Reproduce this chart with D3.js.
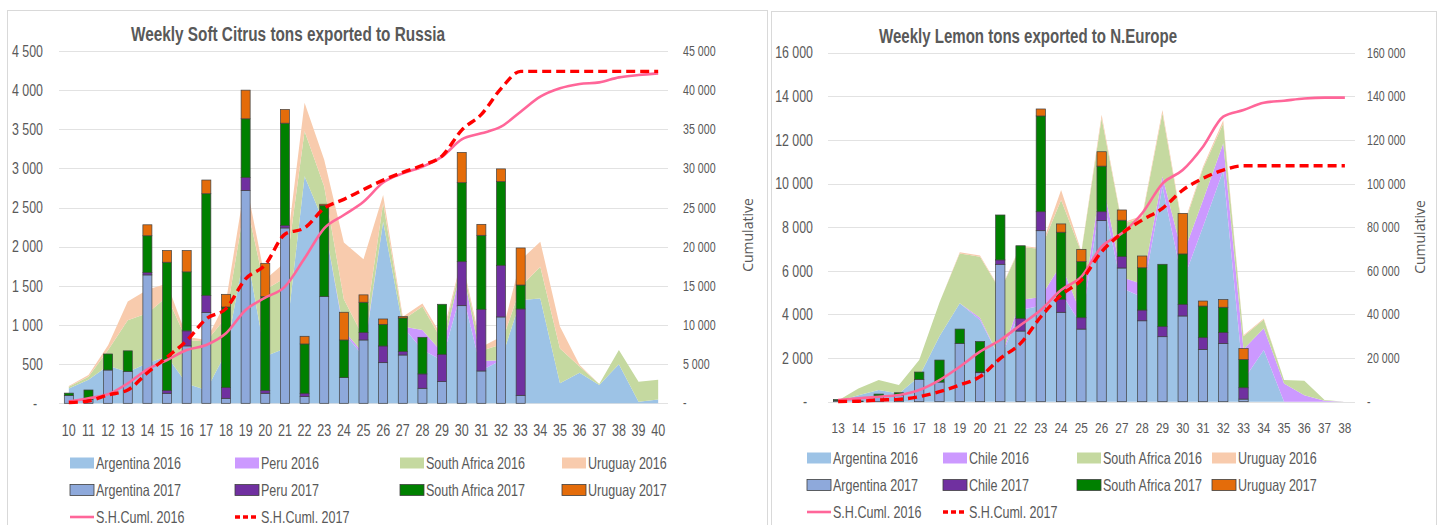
<!DOCTYPE html>
<html>
<head>
<meta charset="utf-8">
<script src="https://cdn.jsdelivr.net/npm/d3@7"></script>
<style>
  body { margin: 0; background: #fff; }
  text { font-family: "Liberation Sans", Arial, sans-serif; fill: #595959; }
  .title { font-weight: bold; font-size: 19.5px; }
  .cumul { font-family: "Open Sans", "DejaVu Sans", sans-serif; font-size: 14px; }
</style>
</head>
<body>
<svg id="chart" width="1440" height="525"></svg>
<script>
// ---- Soft citrus to Russia, weeks 10-40 ----
const russiaWeeks = [10, 11, 12, 13, 14, 15, 16, 17, 18, 19, 20, 21, 22, 23, 24, 25, 26, 27, 28, 29, 30, 31, 32, 33, 34, 35, 36, 37, 38, 39, 40];
const russiaArgentina2016 = [190, 300, 480, 400, 510, 600, 250, 170, 650, 2000, 600, 700, 2900, 2300, 900, 600, 2320, 980, 680, 550, 1450, 420, 550, 1320, 1340, 255, 390, 235, 500, 20, 50];
const russiaPeru2016 = [0, 0, 0, 0, 0, 0, 0, 0, 0, 0, 0, 0, 0, 0, 30, 40, 0, 0, 255, 100, 300, 120, 0, 0, 0, 0, 0, 0, 0, 0, 0];
const russiaSouthAfrica2016 = [20, 40, 200, 660, 640, 760, 560, 620, 450, 600, 850, 900, 575, 470, 400, 200, 235, 85, 300, 150, 60, 130, 200, 170, 405, 445, 80, 12, 180, 255, 250];
const russiaUruguay2016 = [10, 20, 60, 240, 300, 170, 40, 20, 200, 250, 130, 200, 365, 340, 725, 1000, 105, 40, 40, 50, 40, 50, 100, 340, 320, 280, 20, 0, 0, 0, 0];
const russiaArgentina2017 = [100, 50, 425, 405, 1640, 128, 733, 1160, 64, 2718, 128, 2240, 85, 1363, 328, 809, 519, 617, 192, 277, 1247, 413, 1103, 102, 0, 0, 0, 0, 0, 0, 0];
const russiaPeru2017 = [0, 0, 0, 0, 30, 34, 192, 217, 136, 166, 34, 30, 43, 0, 0, 94, 213, 43, 183, 349, 562, 788, 660, 1103, 0, 0, 0, 0, 0, 0, 0];
const russiaSouthAfrica2017 = [30, 120, 205, 265, 470, 1640, 754, 1300, 1030, 750, 1200, 1308, 630, 1163, 481, 388, 277, 430, 468, 639, 1009, 945, 1069, 306, 0, 0, 0, 0, 0, 0, 0];
const russiaUruguay2017 = [0, 0, 0, 0, 140, 150, 273, 175, 162, 366, 426, 175, 98, 17, 354, 94, 68, 17, 0, 0, 387, 140, 162, 473, 0, 0, 0, 0, 0, 0, 0];
const russiaCumul2016 = [213, 640, 1150, 2550, 4340, 5530, 6810, 7450, 8940, 11920, 13490, 14900, 18520, 22350, 24050, 25750, 28200, 29370, 30220, 31500, 33710, 34480, 35330, 37250, 39160, 40230, 40780, 40990, 41630, 41930, 42140];
const russiaCumul2017 = [100, 300, 1060, 1700, 3900, 5900, 8000, 10800, 12100, 15900, 17700, 21600, 22400, 24900, 26050, 27300, 28500, 29500, 30400, 31600, 34900, 36900, 40200, 42400, 42400, 42400, 42400, 42400, 42400, 42400, 42400];
const russiaTicks = [0, 500, 1000, 1500, 2000, 2500, 3000, 3500, 4000, 4500];
const russiaCumulTicks = [0, 5000, 10000, 15000, 20000, 25000, 30000, 35000, 40000, 45000];

// ---- Lemons to N.Europe, weeks 13-38 ----
const europeWeeks = [13, 14, 15, 16, 17, 18, 19, 20, 21, 22, 23, 24, 25, 26, 27, 28, 29, 30, 31, 32, 33, 34, 35, 36, 37, 38];
const europeArgentina2016 = [30, 300, 540, 380, 1150, 3000, 4510, 3750, 1950, 4200, 4400, 5000, 3500, 9600, 5200, 4800, 9860, 5500, 8020, 10600, 1000, 2370, 0, 0, 0, 0];
const europeChile2016 = [0, 0, 0, 0, 0, 0, 0, 100, 0, 460, 400, 1300, 500, 700, 500, 600, 460, 1200, 1220, 1250, 1400, 1000, 840, 300, 40, 0];
const europeSouthAfrica2016 = [30, 310, 450, 390, 760, 1550, 2290, 2800, 3150, 2440, 2200, 2950, 2850, 2700, 2450, 3050, 2900, 1200, 1450, 900, 600, 400, 150, 660, 40, 0];
const europeUruguay2016 = [0, 0, 0, 0, 0, 0, 50, 50, 30, 50, 50, 450, 50, 150, 50, 80, 150, 100, 80, 150, 50, 50, 0, 0, 0, 0];
const europeArgentina2017 = [50, 20, 250, 300, 1020, 900, 2670, 1330, 6300, 3240, 7840, 4100, 3330, 8300, 6130, 3710, 2980, 3930, 2400, 2670, 120, 0, 0, 0, 0, 0];
const europeChile2017 = [0, 0, 0, 0, 0, 0, 0, 30, 200, 580, 870, 600, 520, 410, 520, 490, 460, 535, 535, 500, 520, 0, 0, 0, 0, 0];
const europeSouthAfrica2017 = [50, 10, 100, 110, 340, 1010, 660, 1400, 2060, 3330, 4390, 3070, 2570, 2090, 1670, 1940, 2860, 2310, 1450, 1160, 1300, 0, 0, 0, 0, 0];
const europeUruguay2017 = [0, 0, 0, 0, 0, 0, 0, 0, 0, 0, 320, 380, 565, 660, 470, 540, 0, 1860, 230, 350, 500, 0, 0, 0, 0, 0];
const europeCumul2016 = [760, 1530, 2290, 3060, 5350, 9930, 16040, 22920, 28270, 35140, 42020, 51190, 57300, 71050, 77200, 86400, 100000, 106200, 116900, 130700, 133700, 137060, 138000, 139000, 139400, 139400];
const europeCumul2017 = [100, 230, 760, 1070, 2290, 4580, 7640, 11460, 19870, 26740, 38960, 48900, 55770, 68760, 77170, 83280, 88630, 97030, 102380, 106200, 108180, 108200, 108200, 108200, 108200, 108200];
const europeTicks = [0, 2000, 4000, 6000, 8000, 10000, 12000, 14000, 16000];
const europeCumulTicks = [0, 20000, 40000, 60000, 80000, 100000, 120000, 140000, 160000];

const areaColors = ['#9DC3E6', '#CC99FF', '#C5D9A0', '#F8CBAD'];
const barColors = ['#8EA9DB', '#7030A0', '#008000', '#E46C0A'];
const pink = '#FF6699';
const red = '#FF0000';

// the source chart uses a tall narrow face; squeeze Liberation Sans to match
const squeeze = 0.76;

const svg = d3.select('#chart');

const fmt = v => (v === 0 ? '-' : d3.format(',')(v).replace(/,/g, ' '));

function drawChart(cfg) {
  const { plot } = cfg;
  const x = d3.scaleBand().domain(cfg.weeks).range([plot.left, plot.right]);
  const y = d3.scaleLinear().domain([0, d3.max(cfg.yTicks)]).range([plot.bottom, plot.top]);
  const y2 = d3.scaleLinear().domain([0, d3.max(cfg.y2Ticks)]).range([plot.bottom, plot.top]);
  const cx = w => x(w) + x.bandwidth() / 2;
  const g = svg.append('g');

  g.append('rect')
    .attr('x', cfg.frame[0]).attr('y', cfg.frame[1])
    .attr('width', cfg.frame[2]).attr('height', cfg.frame[3])
    .attr('fill', 'none').attr('stroke', '#d9d9d9');

  g.append('text')
    .attr('class', 'title')
    .attr('x', cfg.titlePos[0]).attr('y', cfg.titlePos[1])
    .attr('text-anchor', 'middle')
    .attr('textLength', cfg.titleWidth)
    .attr('lengthAdjust', 'spacingAndGlyphs')
    .text(cfg.title);

  // gridlines
  g.append('g').selectAll('line')
    .data(cfg.yTicks)
    .join('line')
    .attr('x1', plot.left).attr('x2', plot.right)
    .attr('y1', d => Math.round(y(d)) + 0.5).attr('y2', d => Math.round(y(d)) + 0.5)
    .attr('stroke', '#e2e2e2');

  const rows = cfg.weeks.map((w, i) => {
    const r = { week: w };
    cfg.areas.forEach(s => { r[s.key] = s.values[i]; });
    cfg.bars.forEach(s => { r[s.key] = s.values[i]; });
    return r;
  });

  // 2016 stacked areas
  const areaStack = d3.stack().keys(cfg.areas.map(s => s.key))(rows);
  const area = d3.area()
    .x(d => cx(d.data.week))
    .y0(d => y(d[0]))
    .y1(d => y(d[1]));

  g.append('g').selectAll('path')
    .data(areaStack)
    .join('path')
    .attr('d', area)
    .attr('fill', (d, i) => cfg.areas[i].color);

  // 2017 stacked bars
  const barStack = d3.stack().keys(cfg.bars.map(s => s.key))(rows);
  const barW = x.bandwidth() * 0.46;

  g.append('g').selectAll('g')
    .data(barStack)
    .join('g')
    .attr('fill', (d, i) => cfg.bars[i].color)
    .selectAll('rect')
    .data(d => d.filter(p => p[1] > p[0]))
    .join('rect')
    .attr('x', d => cx(d.data.week) - barW / 2)
    .attr('width', barW)
    .attr('y', d => y(d[1]))
    .attr('height', d => y(d[0]) - y(d[1]))
    .attr('stroke', '#404040')
    .attr('stroke-width', 0.7);

  // cumulative lines on the right axis
  const line = d3.line()
    .x((d, i) => cx(cfg.weeks[i]))
    .y(d => y2(d))
    .curve(d3.curveMonotoneX);

  g.append('path')
    .datum(cfg.cumul2016)
    .attr('d', line)
    .attr('fill', 'none')
    .attr('stroke', pink)
    .attr('stroke-width', 2.6);

  g.append('path')
    .datum(cfg.cumul2017)
    .attr('d', line)
    .attr('fill', 'none')
    .attr('stroke', red)
    .attr('stroke-width', 3.4)
    .attr('stroke-dasharray', '9 5');

  // axes
  const left = g.append('g')
    .attr('transform', `translate(${plot.left},0)`)
    .call(d3.axisLeft(y).tickValues(cfg.yTicks).tickSize(0).tickPadding(cfg.pad[0]).tickFormat(fmt));
  left.selectAll('text').style('font-size', cfg.fonts[0] + 'px').attr('dx', d => (d === 0 ? -6 : 0));

  const right = g.append('g')
    .attr('transform', `translate(${plot.right},0)`)
    .call(d3.axisRight(y2).tickValues(cfg.y2Ticks).tickSize(0).tickPadding(cfg.pad[1]).tickFormat(fmt));
  right.selectAll('text').style('font-size', cfg.fonts[1] + 'px');

  const bottom = g.append('g')
    .attr('transform', `translate(0,${plot.bottom})`)
    .call(d3.axisBottom(x).tickSize(0));
  bottom.selectAll('text')
    .style('font-size', cfg.fonts[2] + 'px')
    .attr('y', cfg.xLabelOffset)
    .attr('dy', '0.35em');

  [left, right, bottom].forEach(a => {
    a.select('.domain').remove();
    a.selectAll('text').attr('fill', '#595959').attr('font-family', null);
  });

  g.append('text')
    .attr('class', 'cumul')
    .attr('transform', `translate(${cfg.cumulPos[0]},${cfg.cumulPos[1]}) rotate(-90)`)
    .attr('text-anchor', 'middle')
    .text('Cumulative');

  // legend
  const lg = g.append('g').style('font-size', '16.5px');
  const items = [];
  cfg.areas.forEach((s, i) => items.push({ type: 'area', color: s.color, label: s.label, col: i, row: 0 }));
  cfg.bars.forEach((s, i) => items.push({ type: 'bar', color: s.color, label: s.label, col: i, row: 1 }));
  items.push({ type: 'solid', color: pink, label: cfg.lineLabels[0], col: 0, row: 2 });
  items.push({ type: 'dash', color: red, label: cfg.lineLabels[1], col: 1, row: 2 });

  items.forEach(it => {
    const lx = cfg.legendCols[it.col];
    const ly = cfg.legendRows[it.row];
    if (it.type === 'area' || it.type === 'bar') {
      lg.append('rect')
        .attr('x', lx).attr('y', ly - 5.5)
        .attr('width', 24).attr('height', 11)
        .attr('fill', it.color)
        .attr('stroke', it.type === 'bar' ? '#404040' : 'none')
        .attr('stroke-width', 0.8);
    } else {
      lg.append('line')
        .attr('x1', lx).attr('x2', lx + 24)
        .attr('y1', ly).attr('y2', ly)
        .attr('stroke', it.color)
        .attr('stroke-width', it.type === 'dash' ? 3.4 : 2.6)
        .attr('stroke-dasharray', it.type === 'dash' ? '5 3' : null);
    }
    lg.append('text')
      .attr('x', lx + 26).attr('y', ly)
      .attr('dy', '0.35em')
      .text(it.label);
  });
}

drawChart({
  title: 'Weekly Soft Citrus tons exported to Russia',
  titlePos: [288, 41],
  titleWidth: 314,
  frame: [7.5, 10.5, 760, 530],
  plot: { left: 59, right: 668, top: 51, bottom: 403.3 },
  weeks: russiaWeeks,
  yTicks: russiaTicks,
  y2Ticks: russiaCumulTicks,
  pad: [16, 15],
  fonts: [16.3, 14, 16.5],
  xLabelOffset: 27,
  cumulPos: [753, 235],
  areas: [
    { key: 'arg16', label: 'Argentina 2016', color: areaColors[0], values: russiaArgentina2016 },
    { key: 'peru16', label: 'Peru 2016', color: areaColors[1], values: russiaPeru2016 },
    { key: 'sa16', label: 'South Africa 2016', color: areaColors[2], values: russiaSouthAfrica2016 },
    { key: 'uru16', label: 'Uruguay 2016', color: areaColors[3], values: russiaUruguay2016 },
  ],
  bars: [
    { key: 'arg17', label: 'Argentina 2017', color: barColors[0], values: russiaArgentina2017 },
    { key: 'peru17', label: 'Peru 2017', color: barColors[1], values: russiaPeru2017 },
    { key: 'sa17', label: 'South Africa 2017', color: barColors[2], values: russiaSouthAfrica2017 },
    { key: 'uru17', label: 'Uruguay 2017', color: barColors[3], values: russiaUruguay2017 },
  ],
  cumul2016: russiaCumul2016,
  cumul2017: russiaCumul2017,
  lineLabels: ['S.H.Cuml. 2016', 'S.H.Cuml. 2017'],
  legendCols: [70, 235, 400, 562],
  legendRows: [463, 490, 517],
});

drawChart({
  title: 'Weekly Lemon tons exported to N.Europe',
  titlePos: [1028, 43],
  titleWidth: 298,
  frame: [771.5, 11.5, 665, 530],
  plot: { left: 828, right: 1355, top: 52.7, bottom: 401.7 },
  weeks: europeWeeks,
  yTicks: europeTicks,
  y2Ticks: europeCumulTicks,
  pad: [15, 12],
  fonts: [16.3, 14, 15.5],
  xLabelOffset: 26,
  cumulPos: [1425, 237],
  areas: [
    { key: 'arg16', label: 'Argentina 2016', color: areaColors[0], values: europeArgentina2016 },
    { key: 'chile16', label: 'Chile 2016', color: areaColors[1], values: europeChile2016 },
    { key: 'sa16', label: 'South Africa 2016', color: areaColors[2], values: europeSouthAfrica2016 },
    { key: 'uru16', label: 'Uruguay 2016', color: areaColors[3], values: europeUruguay2016 },
  ],
  bars: [
    { key: 'arg17', label: 'Argentina 2017', color: barColors[0], values: europeArgentina2017 },
    { key: 'chile17', label: 'Chile 2017', color: barColors[1], values: europeChile2017 },
    { key: 'sa17', label: 'South Africa 2017', color: barColors[2], values: europeSouthAfrica2017 },
    { key: 'uru17', label: 'Uruguay 2017', color: barColors[3], values: europeUruguay2017 },
  ],
  cumul2016: europeCumul2016,
  cumul2017: europeCumul2017,
  lineLabels: ['S.H.Cuml. 2016', 'S.H.Cuml. 2017'],
  legendCols: [807, 943, 1077, 1212],
  legendRows: [458, 485, 512],
});

// narrow every label except the titles and the rotated axis names
svg.selectAll('text')
  .filter(function () { return !this.classList.contains('title') && !this.classList.contains('cumul'); })
  .each(function () {
    const len = this.getComputedTextLength();
    d3.select(this)
      .attr('textLength', len * squeeze)
      .attr('lengthAdjust', 'spacingAndGlyphs');
  });
</script>
</body>
</html>
